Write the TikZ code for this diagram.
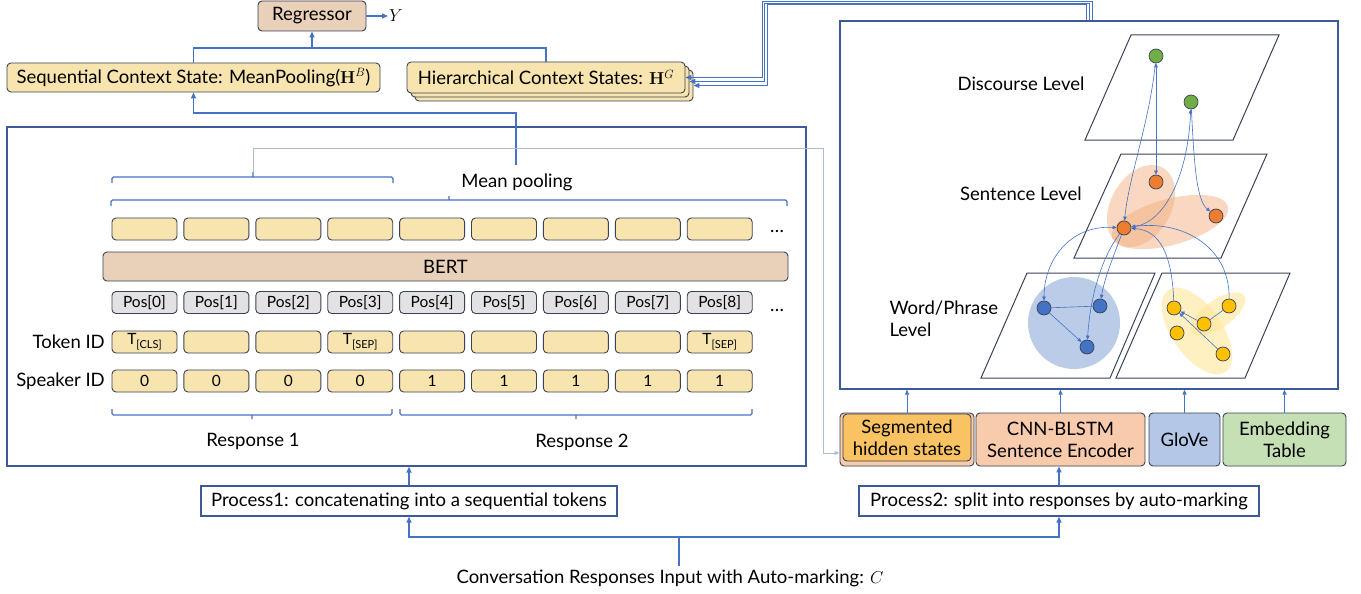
\documentclass[tikz,border=0pt]{standalone}
\usepackage[no-math]{fontspec}
\setmainfont{Lato}
\usetikzlibrary{positioning,arrows.meta,calc}

\definecolor{tokfill}{HTML}{F7E4AF}
\definecolor{bertfill}{HTML}{E9D0B9}
\definecolor{posfill}{HTML}{E2E2E4}
\definecolor{segfill}{HTML}{F9C363}
\definecolor{cnnfill}{HTML}{F8CBAD}
\definecolor{glovefill}{HTML}{B4C7E7}
\definecolor{embfill}{HTML}{C5E0B4}
\definecolor{lineblue}{HTML}{4472C4}
\definecolor{paleline}{HTML}{AEBCD6}
\definecolor{boxline}{HTML}{3A4256}
\definecolor{panelline}{HTML}{3C5A98}
\definecolor{grnode}{HTML}{70AD47}
\definecolor{ornode}{HTML}{ED7D31}
\definecolor{blnode}{HTML}{4472C4}
\definecolor{ylnode}{HTML}{FFC000}
\definecolor{ornfill}{HTML}{F4B183}
\definecolor{ylfill}{HTML}{FFE699}

\newcommand{\tsub}[1]{\raisebox{-0.45ex}{\fontsize{11}{12}\selectfont #1}}

\begin{document}
\begin{tikzpicture}[
  x=1pt, y=-1pt,
  font=\fontsize{18.5}{22}\selectfont,
  >={Triangle[length=4pt,width=3.5pt]},
  rbox/.style={draw=boxline, line width=0.9pt, rounded corners=4pt, inner sep=0pt},
  tokbox/.style={rbox, fill=tokfill, minimum width=65pt, minimum height=22pt, font=\fontsize{15.5}{18}\selectfont},
  posbox/.style={tokbox, fill=posfill},
  panel/.style={draw=panelline, line width=1.3pt, inner sep=0pt},
  procbox/.style={draw=panelline, line width=1.3pt, fill=white, minimum height=30pt, inner sep=3pt},
  lowbox/.style={rbox, minimum height=53pt, align=center, font=\fontsize{18.5}{22}\selectfont},
  conn/.style={draw=lineblue, line width=1.6pt, -{Triangle[length=6pt,width=5pt]}},
  wire/.style={draw=lineblue, line width=1.6pt},
  brace/.style={draw=lineblue, line width=1.4pt, rounded corners=1.5pt},
  thinconn/.style={draw=lineblue, line width=0.6pt, -{Triangle[length=5pt,width=4pt]}},
  plane/.style={draw=boxline, line width=1pt, fill=white},
  gnode/.style={circle, draw=boxline, line width=0.7pt, minimum size=14pt, inner sep=0pt},
  link/.style={draw=lineblue, line width=0.6pt}
]
\useasboundingbox (0,0) rectangle (1361,594);

\node[rbox, fill=bertfill, minimum width=108pt, minimum height=30pt] (reg) at (312,16) {Regressor};
\node[anchor=west, inner sep=1pt] (yout) at (388,16) {$Y$};
\node[rbox, fill=tokfill, minimum width=373pt, minimum height=29pt] (seq) at (193.5,77.5) {Sequential Context State: MeanPooling($\mathbf{H}^B$)};
\node[rbox, fill=tokfill, minimum width=278pt, minimum height=31pt] (hier3) at (554,85.5) {};
\node[rbox, fill=tokfill, minimum width=278pt, minimum height=31pt] (hier2) at (550,81.5) {};
\node[rbox, fill=tokfill, minimum width=278pt, minimum height=31pt] (hier) at (546,77.5) {Hierarchical Context States: $\mathbf{H}^G$};

\node[panel, minimum width=799pt, minimum height=339pt] (lpanel) at (406.5,296.5) {};
\node[panel, minimum width=498pt, minimum height=368pt] (rpanel) at (1089,205) {};

\node[rbox, fill=bertfill, minimum width=685pt, minimum height=29pt] (bert) at (445.5,266.5) {BERT};
\foreach \i in {0,...,8} {
  \node[tokbox] (hid\i) at (144.5+71.9*\i,229) {};
  \node[posbox] (pos\i) at (144.5+71.9*\i,302.5) {Pos[\i]};
}
\foreach \i/\t in {0/T\tsub{[CLS]},1/{},2/{},3/T\tsub{[SEP]},4/{},5/{},6/{},7/{},8/T\tsub{[SEP]}}
  \node[tokbox] (tid\i) at (144.5+71.9*\i,342) {\t};
\foreach \i/\s in {0/0,1/0,2/0,3/0,4/1,5/1,6/1,7/1,8/1}
  \node[tokbox] (spk\i) at (144.5+71.9*\i,381) {\s};
\node[anchor=east, inner sep=0pt] (tidlab) at (105,342) {Token ID};
\node[anchor=east, inner sep=0pt] (spklab) at (105,381) {Speaker ID};
\node (dots1) at (777,231) {\dots};
\node (dots2) at (777,310) {\dots};

\draw[brace] (112,183) -- (112,177) -- (393,177) -- (393,183) (253,177) -- (253,172);
\draw[brace] (111,206) -- (111,200) -- (787,200) -- (787,206) (449,200) -- (449,196);
\draw[brace] (112,409) -- (112,415) -- (392,415) -- (392,409) (252,415) -- (252,419);
\draw[brace] (400,409) -- (400,415) -- (752,415) -- (752,409) (576,415) -- (576,419);
\node (mptext) at (517,182) {Mean pooling};
\node (resp1) at (253,441) {Response 1};
\node (resp2) at (582,442) {Response 2};

\node[lowbox, fill=cnnfill, minimum width=134pt] (segback) at (907,439.5) {};
\node[lowbox, fill=segfill, minimum width=128pt, minimum height=47pt] (seg) at (907,437.5) {Segmented\\hidden states};
\node[lowbox, fill=cnnfill, minimum width=169pt] (cnn) at (1060.5,439.5) {CNN-BLSTM\\Sentence Encoder};
\node[lowbox, fill=glovefill, minimum width=71pt] (glove) at (1184.5,439.5) {GloVe};
\node[lowbox, fill=embfill, minimum width=123pt] (emb) at (1284.5,439.5) {Embedding\\Table};

\node[procbox, minimum width=416pt] (proc1) at (409,501) {Process1: concatenating into a sequential tokens};
\node[procbox, minimum width=400pt] (proc2) at (1059,501) {Process2: split into responses by auto-marking};
\node (conv) at (670,578) {Conversation Responses Input with Auto-marking: $C$};

\coordinate (split) at (679,537);
\draw[wire] (conv.north -| split) -- (split);
\draw[conn] (split) -| (proc1.south);
\draw[conn] (split) -| (proc2.south);
\draw[conn] (proc1.north) -- (proc1.north |- lpanel.south);
\draw[conn] (proc2.north) -- (proc2.north |- cnn.south);
\foreach \b in {segback,cnn,glove,emb}
  \draw[thinconn] (\b.north) -- (\b.north |- rpanel.south);

\coordinate (mptop) at (516,165);
\coordinate (mpbend) at (516,113);
\draw[conn] (mptop) -- (mpbend) -| (seq.south);
\coordinate (regjoin) at (312,48);
\draw[wire] (seq.north) |- (regjoin) -| (hier.north);
\draw[conn] (regjoin) -- (reg.south);
\draw[conn, line width=1.3pt] (reg.east) -- (yout.west);
\draw[conn, line width=1pt] ([xshift=3pt]rpanel.north) |- (762,2) |- (hier.east);
\draw[conn, line width=1pt] (rpanel.north) |- (764.5,3.5) |- (hier2.east);
\draw[conn, line width=1pt] ([xshift=-3pt]rpanel.north) |- (767,5) |- (hier3.east);

\coordinate (bracetip) at (253,172);
\draw[draw=paleline, line width=1pt, -{Triangle[length=5pt,width=4pt]}] (bracetip) -- (253,148) -- (823,148) -- (823,453) -- ([yshift=-13.5pt]segback.west);

\draw[plane] (1131,35) -- (1279,35) -- (1233,140) -- (1085,140) -- cycle;
\draw[plane] (1121,154) -- (1267,154) -- (1221,258) -- (1074,258) -- cycle;
\draw[plane] (1027,273) -- (1155,273) -- (1110,378) -- (981,378) -- cycle;
\draw[plane] (1162,273) -- (1290,273) -- (1245,378) -- (1116,378) -- cycle;
\node (dislab) at (1021,84) {Discourse Level};
\node (senlab) at (1021,194) {Sentence Level};
\node[anchor=west, align=left, font=\fontsize{18.5}{22}\selectfont] (wordlab) at (886,319) {Word/Phrase\\Level};

\fill[glovefill, fill opacity=0.9] (1074,323) circle (46);
\fill[ornfill, fill opacity=0.5, rotate around={60:(1141,206)}] (1141,206) ellipse (44 and 30);
\fill[ornfill, fill opacity=0.5, rotate around={15:(1170,222)}] (1170,222) ellipse (60 and 23);
\fill[ylfill, fill opacity=0.6, rotate around={-55:(1197,331)}] (1197,331) ellipse (50 and 25);
\fill[ylfill, fill opacity=0.6, rotate around={35:(1218,314)}] (1218,314) ellipse (32 and 14);

\node[gnode, fill=grnode] (g1) at (1156,56) {};
\node[gnode, fill=grnode] (g2) at (1191,102) {};
\node[gnode, fill=ornode] (s1) at (1156,182) {};
\node[gnode, fill=ornode] (s2) at (1216,216) {};
\node[gnode, fill=ornode] (s3) at (1124,228) {};
\node[gnode, fill=blnode] (b1) at (1044,308) {};
\node[gnode, fill=blnode] (b2) at (1100,306) {};
\node[gnode, fill=blnode] (b3) at (1087,347) {};
\node[gnode, fill=ylnode] (y1) at (1174,308) {};
\node[gnode, fill=ylnode] (y2) at (1229,306) {};
\node[gnode, fill=ylnode] (y3) at (1204,324) {};
\node[gnode, fill=ylnode] (y4) at (1177,333) {};
\node[gnode, fill=ylnode] (y5) at (1223,354) {};

\draw[link,<->] (g1) -- (s1);
\draw[link,->] (g1) .. controls (1150,120) and (1128,180) .. (s3);
\draw[link,<->] (g2) .. controls (1188,175) and (1165,222) .. (s3);
\draw[link,->] (g2) .. controls (1194,160) and (1196,200) .. (s2);
\draw[link,<->] (s3) .. controls (1070,225) and (1044,260) .. (b1);
\draw[link,->] (s3) .. controls (1112,260) and (1104,280) .. (b2);
\draw[link,->] (s3) .. controls (1100,260) and (1090,300) .. (b3);
\draw[link,->] (y1) .. controls (1172,255) and (1160,230) .. (s3);
\draw[link,->] (y2) .. controls (1230,245) and (1180,220) .. (s3);
\draw[link] (b1) -- (b2);
\draw[link,->] (b1) -- (b3);
\draw[link,->] (y3) -- (y1);
\draw[link,->] (y5) -- (y1);
\draw[link] (y3) -- (y2);
\end{tikzpicture}
\end{document}
